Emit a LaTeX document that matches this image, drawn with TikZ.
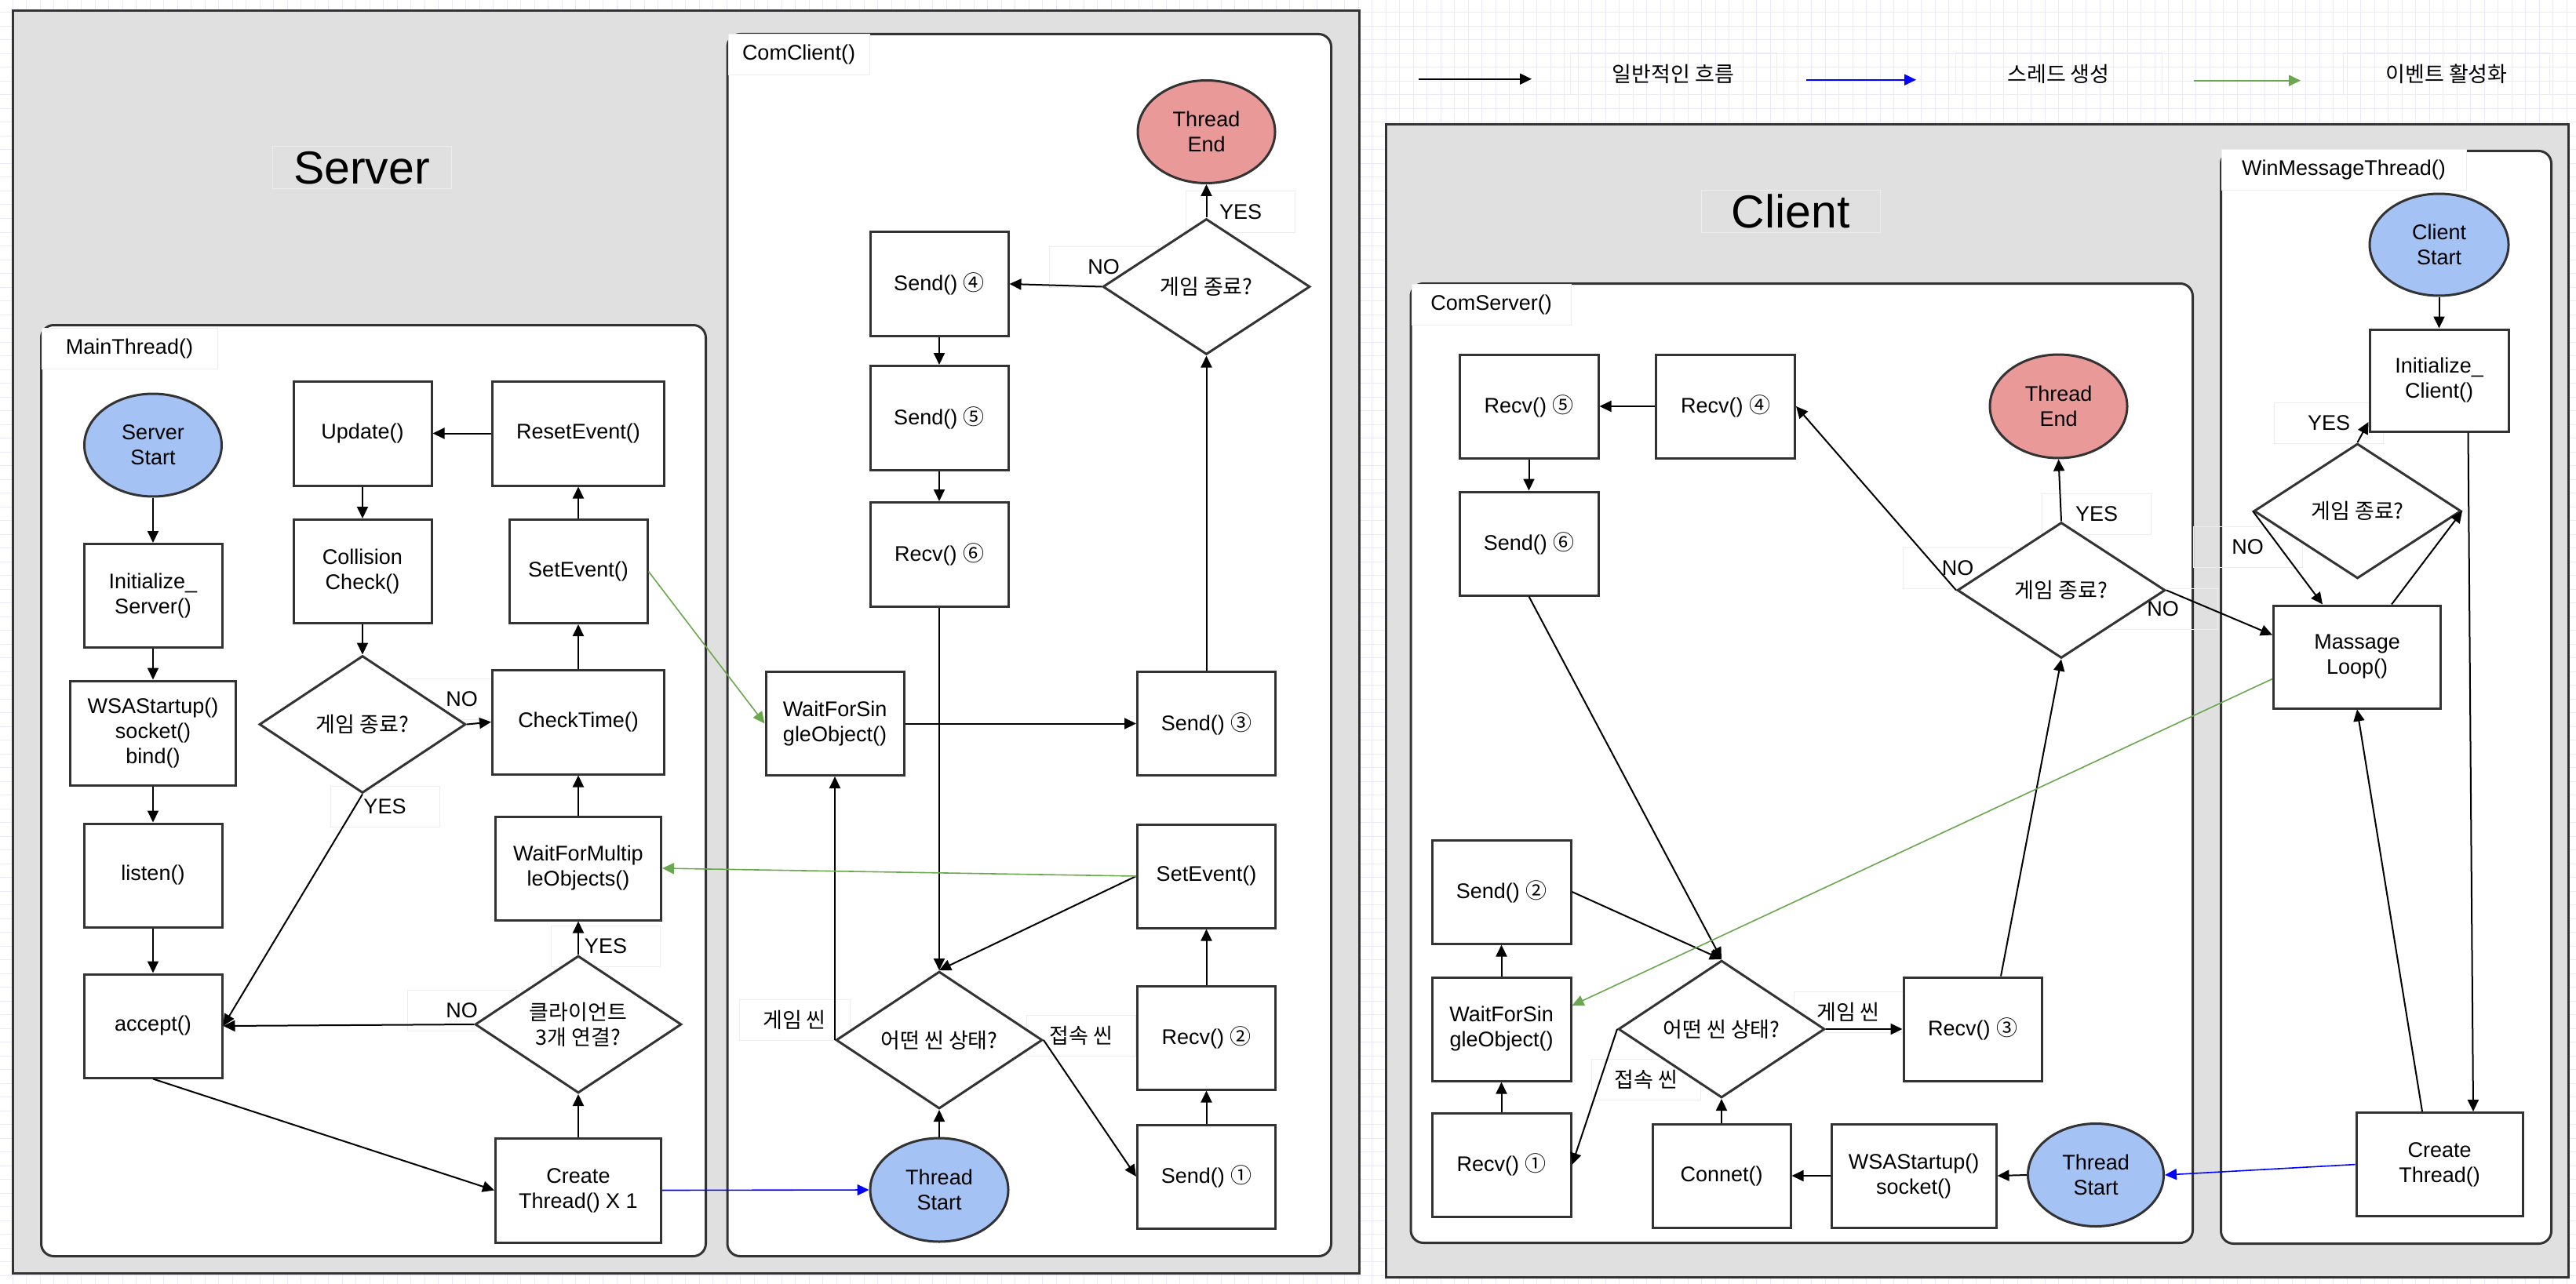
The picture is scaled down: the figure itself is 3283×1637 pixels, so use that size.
\documentclass[tikz,border=0pt]{standalone}
\usepackage{fontspec}
\setmainfont{Liberation Sans}
\newfontfamily\kr{Noto Sans CJK KR}
\usetikzlibrary{shapes.geometric,arrows.meta,calc}

\definecolor{frameline}{HTML}{333333}
\definecolor{panelgray}{HTML}{E0E0E0}
\definecolor{startblue}{HTML}{A4C2F4}
\definecolor{endred}{HTML}{EA9999}
\definecolor{evgreen}{HTML}{6AA84F}
\definecolor{tagline}{HTML}{EDEDED}
\definecolor{gridln}{RGB}{234,234,250}

\begin{document}
\begin{tikzpicture}[x=1pt,y=-1pt,
  every node/.style={font=\fontsize{27}{32}\selectfont, align=center, inner sep=0pt},
  kor/.style={font=\fontsize{27}{32}\selectfont\kr},
  panel/.style={rectangle, draw=frameline, line width=3pt, fill=panelgray, anchor=north west},
  holder/.style={rectangle, rounded corners=16pt, draw=frameline, line width=3pt, fill=white, anchor=north west},
  holdertag/.style={rectangle, draw=tagline, line width=1pt, fill=white, minimum height=52pt},
  headline/.style={rectangle, draw=tagline, line width=1pt, minimum width=228pt, minimum height=54pt, font=\fontsize{59}{70}\selectfont},
  proc/.style={rectangle, draw=frameline, line width=3pt, fill=white, minimum width=176pt, minimum height=132pt},
  wproc/.style={proc, minimum width=211pt},
  xproc/.style={proc, minimum width=219pt},
  decide/.style={diamond, shape aspect=1.5, draw=frameline, line width=3pt, fill=white, minimum width=263pt, minimum height=175pt, kor},
  terminal/.style={ellipse, draw=frameline, line width=3pt, minimum width=176pt, minimum height=131pt},
  tag/.style={rectangle, draw=tagline, line width=1pt, minimum width=139pt, minimum height=52pt},
  flow/.style={draw=black, line width=2pt, -{Triangle[length=15pt,width=14pt]}},
  spawn/.style={draw=blue, line width=1.6pt, -{Triangle[length=15pt,width=14pt]}},
  evt/.style={draw=evgreen, line width=1.6pt, -{Triangle[length=15pt,width=14pt]}}
]
% page and background grid
\useasboundingbox (0,0) rectangle (3283,1637);
\fill[white] (0,0) rectangle (3283,1637);
\foreach \k in {0,...,188} \draw[gridln, line width=1pt] ({\k*17.5-1.5},0) -- ({\k*17.5-1.5},1637);
\foreach \k in {0,...,94} \draw[gridln, line width=1pt] (0,{\k*17.5-1.5}) -- (3283,{\k*17.5-1.5});

% outer panels
\node[panel, minimum width=1716pt, minimum height=1610pt] (server) at (15,12) {};
\node[panel, minimum width=1507pt, minimum height=1470pt] (client) at (1765,157) {};
\node[headline] (servertitle) at (461,214) {Server};
\node[headline] (clienttitle) at (2282,269.5) {Client};

% thread containers
\node[holder, minimum width=847pt, minimum height=1187pt] (mainthread) at (51,413) {};
\node[holder, minimum width=769.5pt, minimum height=1558pt] (comclient) at (925.5,42) {};
\node[holder, minimum width=996.5pt, minimum height=1223pt] (comserver) at (1796.5,360) {};
\node[holder, minimum width=421pt, minimum height=1393pt] (winmsg) at (2829,191) {};
\node[holdertag, minimum width=224pt] (mainthreadtag) at (165,444.5) {MainThread()};
\node[holdertag, minimum width=180pt] (comclienttag) at (1018,69.5) {ComClient()};
\node[holdertag, minimum width=203pt] (comservertag) at (1900.5,388.5) {ComServer()};
\node[holdertag, minimum width=312pt] (winmsgtag) at (2987,217) {WinMessageThread()};

% legend
\coordinate (lgA1) at (1808,100.7);
\coordinate (lgA2) at (1952,100.7);
\coordinate (lgB1) at (2302,101.7);
\coordinate (lgB2) at (2442,101.7);
\coordinate (lgC1) at (2796,102.7);
\coordinate (lgC2) at (2932,102.7);
\node[tag, kor, minimum width=263pt, minimum height=53pt] (lgA) at (2132.5,94.5) {일반적인 흐름};
\node[tag, kor, minimum width=263pt, minimum height=53pt] (lgB) at (2623.5,94.5) {스레드 생성};
\node[tag, kor, minimum width=263pt, minimum height=53pt] (lgC) at (3118,94.5) {이벤트 활성화};

% branch labels
\node[tag] (t1) at (588.5,891.5) {NO};
\node[tag] (t2) at (490.5,1028) {YES};
\node[tag] (t3) at (772,1206) {YES};
\node[tag] (t4) at (588.5,1288) {NO};
\node[tag] (t5) at (1581,270) {YES};
\node[tag] (t6) at (1406.5,340) {NO};
\node[tag, kor, minimum width=141pt] (t7) at (1012.5,1300.5) {게임 씬};
\node[tag, kor] (t8) at (1378,1320) {접속 씬};
\node[tag] (t9) at (2672,655) {YES};
\node[tag] (t10) at (2495,724) {NO};
\node[tag] (t11) at (2756.5,776) {NO};
\node[tag, kor] (t12) at (2355.5,1290.5) {게임 씬};
\node[tag, kor] (t13) at (2098,1376.5) {접속 씬};
\node[tag] (t14) at (2968,539) {YES};
\node[tag] (t15) at (2864.5,697) {NO};

% MainThread()
\node[terminal, fill=startblue, minimum width=175pt] (ss) at (195,567.5) {Server\\Start};
\node[proc] (initS) at (195,759.5) {Initialize\_\\Server()};
\node[wproc, minimum height=133pt] (wsaS) at (195,934.5) {WSAStartup()\\socket()\\bind()};
\node[proc] (listen) at (195,1116) {listen()};
\node[proc] (accept) at (195,1308) {accept()};
\node[proc, minimum height=133pt] (update) at (462,552.5) {Update()};
\node[proc] (coll) at (462,728.5) {Collision\\Check()};
\node[decide] (gend1) at (462,923.5) {게임 종료?};
\node[xproc, minimum height=133pt] (reset) at (737,552.5) {ResetEvent()};
\node[proc] (setev) at (737,728.5) {SetEvent()};
\node[xproc, minimum height=133pt] (checkt) at (737,920.5) {CheckTime()};
\node[wproc] (wfmo) at (737,1107) {WaitForMultip\\leObjects()};
\node[decide] (cli3) at (737,1306) {클라이언트\\3개 연결?};
\node[wproc, minimum height=133pt] (create1) at (737,1517.5) {Create\\Thread() X 1};

% ComClient()
\node[terminal, fill=endred, minimum width=175pt] (tend1) at (1537.5,168) {Thread\\End};
\node[decide, minimum width=264pt, minimum height=173pt] (gend2) at (1537.5,365.5) {게임 종료?};
\node[proc, minimum height=133pt] (send4) at (1197,362) {Send() {\kr ④}};
\node[proc, minimum height=133pt] (send5) at (1197,533) {Send() {\kr ⑤}};
\node[proc, minimum height=133pt] (recv6) at (1197,707) {Recv() {\kr ⑥}};
\node[proc] (wfso1) at (1064,922.5) {WaitForSin\\gleObject()};
\node[proc] (send3) at (1537.5,922.5) {Send() {\kr ③}};
\node[proc] (setev2) at (1537.5,1117) {SetEvent()};
\node[proc] (recv2) at (1537.5,1323) {Recv() {\kr ②}};
\node[proc] (send1) at (1537.5,1500) {Send() {\kr ①}};
\node[decide] (scene1) at (1197,1326) {어떤 씬 상태?};
\node[terminal, fill=startblue, minimum height=132pt] (tstart1) at (1197,1517) {Thread\\Start};

% ComServer()
\node[proc, minimum width=177pt] (recv5) at (1948.5,518) {Recv() {\kr ⑤}};
\node[proc, minimum width=177pt] (recv4) at (2199,518) {Recv() {\kr ④}};
\node[proc, minimum width=177pt] (send6) at (1948.5,693) {Send() {\kr ⑥}};
\node[terminal, fill=endred, minimum width=175pt, minimum height=132pt] (tend2) at (2623.5,518) {Thread\\End};
\node[decide, minimum width=265pt, minimum height=173pt] (gend3) at (2627,752.5) {게임 종료?};
\node[proc, minimum width=177pt] (send2) at (1913.5,1137) {Send() {\kr ②}};
\node[proc, minimum width=177pt] (wfso2) at (1913.5,1312) {WaitForSin\\gleObject()};
\node[proc, minimum width=177pt] (recv1) at (1913.5,1485) {Recv() {\kr ①}};
\node[decide] (scene2) at (2194,1312) {어떤 씬 상태?};
\node[proc] (recv3) at (2514,1312) {Recv() {\kr ③}};
\node[proc] (conn) at (2194,1499) {Connet()};
\node[proc, minimum width=210pt] (wsa2) at (2439,1499) {WSAStartup()\\socket()};
\node[terminal, fill=startblue, minimum width=173pt] (tstart2) at (2671,1498) {Thread\\Start};

% WinMessageThread()
\node[terminal, fill=startblue, minimum width=177pt, minimum height=130pt] (cstart) at (3108.5,312) {Client\\Start};
\node[proc, minimum width=177pt, minimum height=130pt] (initC) at (3108.5,485) {Initialize\_\\Client()};
\node[decide, minimum width=264pt, minimum height=172pt] (gend4) at (3004.5,651.5) {게임 종료?};
\node[proc, minimum width=213pt, minimum height=131pt] (mloop) at (3004,837.5) {Massage\\Loop()};
\node[wproc, minimum width=212pt] (ctrd) at (3109,1484.6) {Create\\Thread()};

% connectors: MainThread()
\draw[flow] (ss.south) -- (initS.north);
\draw[flow] (initS.south) -- (wsaS.north);
\draw[flow] (wsaS.south) -- (listen.north);
\draw[flow] (listen.south) -- (accept.north);
\draw[flow] (accept.south) -- (create1.west);
\draw[flow] (create1.north) -- (cli3.south);
\draw[flow] (cli3.north) -- (wfmo.south);
\draw[flow] (cli3.west) -- (accept.east);
\draw[flow] (wfmo.north) -- (checkt.south);
\draw[flow] (checkt.north) -- (setev.south);
\draw[flow] (setev.north) -- (reset.south);
\draw[flow] (reset.west) -- (update.east);
\draw[flow] (update.south) -- (coll.north);
\draw[flow] (coll.south) -- (gend1.north);
\draw[flow] (gend1.east) -- (checkt.west);
\draw[flow] (gend1.south) -- (accept.east);

% connectors: ComClient()
\draw[flow] (gend2.west) -- (send4.east);
\draw[flow] (gend2.north) -- (tend1.south);
\draw[flow] (send4.south) -- (send5.north);
\draw[flow] (send5.south) -- (recv6.north);
\draw[flow] (recv6.south) -- (scene1.north);
\draw[flow] (wfso1.east) -- (send3.west);
\draw[flow] (send3.north) -- (gend2.south);
\draw[flow] (scene1.west) -- (wfso1.south);
\draw[flow] (scene1.east) -- (send1.west);
\draw[flow] (setev2.west) -- (scene1.north);
\draw[flow] (send1.north) -- (recv2.south);
\draw[flow] (recv2.north) -- (setev2.south);
\draw[flow] (tstart1.north) -- (scene1.south);

% connectors: ComServer()
\draw[flow] (recv4.west) -- (recv5.east);
\draw[flow] (recv5.south) -- (send6.north);
\draw[flow] (send6.south) -- (scene2.north);
\draw[flow] (send2.east) -- (scene2.north);
\draw[flow] (scene2.east) -- (recv3.west);
\draw[flow] (scene2.west) -- (recv1.east);
\draw[flow] (recv1.north) -- (wfso2.south);
\draw[flow] (wfso2.north) -- (send2.south);
\draw[flow] (conn.north) -- (scene2.south);
\draw[flow] (wsa2.west) -- (conn.east);
\draw[flow] (tstart2.west) -- (wsa2.east);
\draw[flow] ($(recv3.north)+(36,0)$) -- (gend3.south);
\draw[flow] (gend3.north) -- (tend2.south);
\draw[flow] (gend3.west) -- (recv4.east);
\draw[flow] (gend3.east) -- ($(mloop.west)+(0,-28)$);

% connectors: WinMessageThread()
\draw[flow] (cstart.south) -- (initC.north);
\draw[flow] ($(initC.south)+(37,0)$) -- ($(ctrd.north)+(43,0)$);
\draw[flow] ($(ctrd.north)+(-22,0)$) -- (mloop.south);
\draw[flow] ($(mloop.north)+(44,0)$) -- (gend4.east);
\draw[flow] (gend4.west) -- ($(mloop.north)+(-44,0)$);
\draw[flow] (gend4.north) -- ($(initC.west)+(0,53)$);

% thread creation and event signalling
\draw[spawn] (create1.east) -- (tstart1.west);
\draw[spawn] (ctrd.west) -- (tstart2.east);
\draw[evt] (setev.east) -- (wfso1.west);
\draw[evt] (setev2.west) -- (wfmo.east);
\draw[evt] ($(mloop.west)+(0,28)$) -- ($(wfso2.east)+(0,-30)$);

% legend arrows
\draw[flow] (lgA1) -- (lgA2);
\draw[spawn, line width=2pt] (lgB1) -- (lgB2);
\draw[evt, line width=2pt] (lgC1) -- (lgC2);
\end{tikzpicture}
\end{document}
